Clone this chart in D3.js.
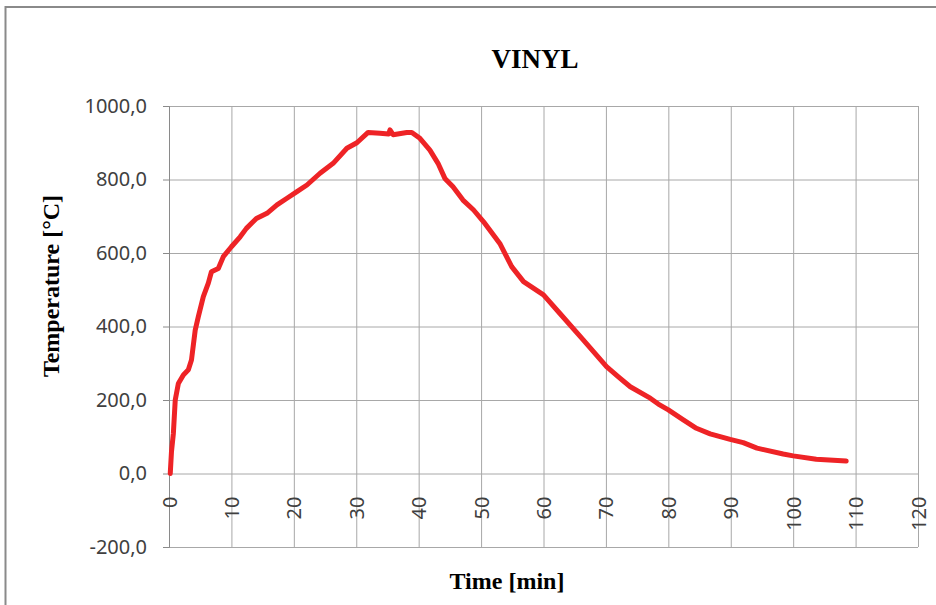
<!DOCTYPE html>
<html>
<head>
<meta charset="utf-8">
<script src="https://cdn.jsdelivr.net/npm/d3@7"></script>
<style>
body { margin: 0; background: #fff; }
</style>
</head>
<body>
<script>
const title = "VINYL";
const xTitle = "Time [min]";
const yTitle = "Temperature [°C]";

const xTicks = [0, 10, 20, 30, 40, 50, 60, 70, 80, 90, 100, 110, 120];
const yTicks = [-200, 0, 200, 400, 600, 800, 1000];
const yTickLabels = ["-200,0", "0,0", "200,0", "400,0", "600,0", "800,0", "1000,0"];

const timeMin = [0.2, 0.4, 0.7, 1.0, 1.5, 2.3, 3.1, 3.6, 4.2, 4.7, 5.5, 6.3, 6.8, 7.9, 8.7,
  10.0, 11.4, 12.4, 14.0, 15.7, 17.3, 18.9, 20.5, 22.1, 24.2, 26.3, 28.5, 30.1, 31.9,
  33.8, 35.2, 35.4, 35.9, 38.1, 38.9, 40.2, 41.8, 43.1, 44.2, 45.5, 47.1, 48.8, 50.4,
  53.0, 54.9, 56.8, 60.0, 62.6, 66.4, 70.1, 72.0, 73.9, 77.1, 78.4, 80.0, 82.4, 84.5,
  86.7, 89.9, 92.0, 94.2, 98.4, 100.0, 103.7, 108.5];
const tempC = [0, 60, 109, 200, 245, 268, 282, 309, 390, 427, 481, 518, 549, 558, 590,
  617, 644, 667, 694, 708, 731, 749, 767, 785, 817, 844, 885, 900, 928,
  926, 924, 935, 922, 928, 928, 912, 880, 844, 803, 780, 744, 717, 685,
  626, 563, 522, 486, 436, 363, 291, 263, 236, 205, 189, 173, 146, 123,
  108, 93, 84, 69, 53, 48, 39, 34];

const w = 936;
const h = 605;
const plotLeft = 169, plotRight = 918, plotTop = 106, plotBottom = 547;

const svg = d3.select("body")
  .append("svg")
  .attr("width", w)
  .attr("height", h);

// chart frame
svg.append("rect")
  .attr("x", 5.5).attr("y", 7)
  .attr("width", w + 20).attr("height", h + 20)
  .attr("fill", "none")
  .attr("stroke", "#8a8a8a")
  .attr("stroke-width", 2);

const xScale = d3.scaleLinear().domain([0, 120]).range([plotLeft, plotRight]);
const yScale = d3.scaleLinear().domain([-200, 1000]).range([plotBottom, plotTop]);

// grid
svg.append("g")
  .attr("transform", "translate(0," + plotBottom + ")")
  .call(d3.axisBottom(xScale).tickValues(xTicks).tickSize(-(plotBottom - plotTop)).tickFormat(""))
  .call(g => g.select(".domain").remove())
  .selectAll("line").attr("stroke", "#a8a8a8");

svg.append("g")
  .attr("transform", "translate(" + plotLeft + ",0)")
  .call(d3.axisLeft(yScale).tickValues(yTicks).tickSize(-(plotRight - plotLeft)).tickFormat(""))
  .call(g => g.select(".domain").remove())
  .selectAll("line").attr("stroke", "#a8a8a8");

// y axis
const yAxis = svg.append("g")
  .attr("transform", "translate(" + plotLeft + ",0)")
  .call(d3.axisLeft(yScale).tickValues(yTicks).tickSize(6).tickPadding(16)
    .tickFormat((d, i) => yTickLabels[i]));
yAxis.selectAll("line, path").attr("stroke", "#8a8a8a");
yAxis.selectAll("text")
  .attr("fill", "#404040")
  .style("font-family", "'Noto Sans', sans-serif")
  .style("font-size", "20px");

// x axis labels sit under the zero line
const xAxis = svg.append("g")
  .attr("transform", "translate(0," + yScale(0) + ")")
  .call(d3.axisBottom(xScale).tickValues(xTicks).tickSize(0));
xAxis.select(".domain").remove();
xAxis.selectAll("text")
  .attr("transform", "rotate(-90)")
  .attr("x", -23)
  .attr("y", 0)
  .attr("dy", "0.35em")
  .attr("text-anchor", "end")
  .attr("fill", "#404040")
  .style("font-family", "'Noto Sans', sans-serif")
  .style("font-size", "20px");

// data line
const line = d3.line()
  .x((d, i) => xScale(timeMin[i]))
  .y(d => yScale(d));

svg.append("path")
  .datum(tempC)
  .attr("d", line)
  .attr("fill", "none")
  .attr("stroke", "#ee2326")
  .attr("stroke-width", 5)
  .attr("stroke-linejoin", "round")
  .attr("stroke-linecap", "round");

// titles
svg.append("text")
  .attr("x", 535).attr("y", 68)
  .attr("text-anchor", "middle")
  .style("font-family", "'Liberation Serif', serif")
  .style("font-weight", "bold")
  .style("font-size", "27px")
  .text(title);

svg.append("text")
  .attr("x", 507).attr("y", 589)
  .attr("text-anchor", "middle")
  .style("font-family", "'Liberation Serif', serif")
  .style("font-weight", "bold")
  .style("font-size", "24px")
  .text(xTitle);

svg.append("text")
  .attr("transform", "translate(59,286) rotate(-90)")
  .attr("text-anchor", "middle")
  .style("font-family", "'Liberation Serif', serif")
  .style("font-weight", "bold")
  .style("font-size", "24px")
  .text(yTitle);
</script>
</body>
</html>
